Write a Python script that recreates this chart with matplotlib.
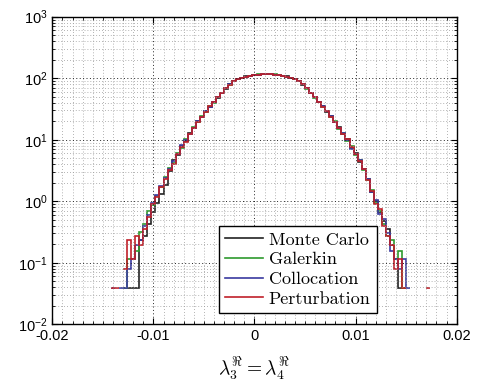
import numpy as np
import matplotlib
matplotlib.use("Agg")
import matplotlib.pyplot as plt
from matplotlib.ticker import MultipleLocator, LogLocator, NullFormatter

nan = np.nan

# bin edges of the histograms (width 0.0004)
edge_start = -0.0142
bin_width = 0.0004
n_bins = 79
edges = np.round(edge_start + bin_width * np.arange(n_bins + 1), 6)

# left tail (14 bins), centre (49 bins), right tail (16 bins)
mc_left = [nan, nan, nan, 0.039, 0.039, 0.039, 0.039, 0.234, 0.273, 0.43, 0.66, 0.94, 1.33, 1.83]
gal_left = [nan, nan, nan, 0.039, 0.117, 0.117, 0.156, 0.312, 0.43, 0.70, 0.86, 1.21, 1.72, 2.5]
col_left = [0.039, nan, 0.039, 0.039, 0.078, 0.117, 0.195, 0.234, 0.39, 0.59, 0.94, 1.25, 1.79, 2.38]
per_left = [0.039, 0.039, nan, 0.078, 0.234, 0.117, 0.273, 0.195, 0.35, 0.55, 0.90, 1.17, 1.68, 2.3]

mc_mid = [3.1, 4.6, 5.7, 7.9, 9.6, 12.9, 15.3, 19.9, 23.5, 29.4, 34.1, 41.5, 48.4, 58.1, 67.6,
          79.9, 89.0, 97.1, 101.5, 106.8, 109.5, 113.0, 114.1, 116.2, 115.7, 115.9, 114.0, 113.1,
          109.4, 106.9, 101.6, 97.0, 89.9, 79.0, 69.0, 57.6, 49.5, 40.4, 35.0, 28.5, 24.3, 19.2,
          15.9, 12.2, 10.1, 7.4, 6.0, 4.3, 3.4]
gal_mid = [3.5, 4.2, 6.1, 7.4, 10.2, 12.2, 16.1, 19.1, 24.4, 28.6, 35.2, 40.2, 49.6, 57.0, 69.1,
           78.8, 90.1, 96.0, 102.6, 105.9, 110.2, 112.1, 115.0, 115.1, 116.5, 115.0, 114.9, 111.9,
           110.3, 105.8, 102.4, 96.1, 89.1, 80.2, 67.9, 58.5, 48.5, 41.5, 34.1, 29.3, 23.4, 19.9,
           15.2, 12.8, 9.5, 7.8, 5.6, 4.6, 3.2]
col_mid = [3.3, 4.5, 5.9, 8.2, 9.9, 12.4, 15.6, 20.3, 23.8, 29.1, 34.4, 41.1, 48.8, 57.7, 68.3,
           79.3, 89.6, 96.6, 102.1, 106.4, 109.9, 112.6, 114.6, 115.4, 116.1, 115.6, 114.4, 112.4,
           109.7, 106.2, 102.1, 96.4, 89.4, 79.6, 68.4, 57.9, 49.2, 40.7, 34.8, 28.8, 24.0, 19.4,
           15.8, 13.0, 9.9, 7.1, 5.9, 4.7, 3.3]
per_mid = [3.2, 4.0, 5.8, 7.5, 9.2, 12.6, 15.5, 19.3, 23.0, 28.7, 34.9, 40.6, 49.3, 57.3, 68.8,
           78.7, 89.3, 96.8, 102.3, 106.1, 110.0, 112.4, 114.4, 115.6, 116.0, 115.4, 114.6, 112.6,
           109.6, 106.4, 101.8, 96.7, 89.6, 79.3, 68.6, 57.8, 48.8, 41.2, 34.4, 29.1, 23.7, 19.6,
           15.6, 12.6, 10.4, 7.7, 5.8, 4.5, 3.3]

mc_right = [2.26, 1.44, 1.01, 0.66, 0.47, 0.35, 0.195, 0.117, 0.039, 0.039, nan, nan, nan, nan, nan, nan]
gal_right = [2.19, 1.52, 0.94, 0.70, 0.43, 0.27, 0.234, 0.117, 0.156, 0.039, nan, nan, nan, nan, nan, nan]
col_right = [2.34, 1.40, 1.05, 0.62, 0.51, 0.31, 0.156, 0.117, 0.078, 0.117, 0.039, nan, nan, nan, nan, nan]
per_right = [2.22, 1.48, 0.90, 0.74, 0.39, 0.27, 0.195, 0.078, 0.117, 0.039, nan, nan, nan, nan, nan, 0.039]

labels = ["Monte Carlo", "Galerkin", "Collocation", "Perturbation"]
colors = ["#222222", "#2e9a2e", "#3a3aa0", "#c0202a"]
series = [mc_left + mc_mid + mc_right,
          gal_left + gal_mid + gal_right,
          col_left + col_mid + col_right,
          per_left + per_mid + per_right]

plt.rcParams['font.family'] = ['Liberation Sans', 'DejaVu Sans']

fig = plt.figure(figsize=(4.81, 3.90), dpi=100)
ax = fig.add_axes([0.1087, 0.1685, 0.8408, 0.7887])

for vals, lab, col in zip(series, labels, colors):
    ax.stairs(np.array(vals), edges, baseline=None, color=col, lw=1.2, label=lab)

ax.set_yscale('log')
ax.set_xlim(-0.02, 0.02)
ax.set_ylim(1e-2, 1e3)
ax.set_xticks([-0.02, -0.01, 0, 0.01, 0.02])
ax.set_xticklabels(["-0.02", "-0.01", "0", "0.01", "0.02"])
ax.xaxis.set_minor_locator(MultipleLocator(0.001))
ax.yaxis.set_major_locator(LogLocator(base=10, numticks=10))
ax.yaxis.set_minor_locator(LogLocator(base=10, subs=np.arange(2, 10), numticks=20))
ax.yaxis.set_minor_formatter(NullFormatter())

ax.grid(True, which='major', linestyle=(0, (1, 2.5)), color='#222222', lw=0.7)
ax.grid(True, which='minor', linestyle=(0, (1, 2.5)), color='#9a9a9a', lw=0.6)
ax.tick_params(which='both', direction='in', top=True, right=True, labelsize=10.5)
ax.tick_params(which='major', length=4)
ax.tick_params(which='minor', length=2)
for s in ax.spines.values():
    s.set_linewidth(1.0)

ax.set_xlabel(r'$\lambda_3^{\Re} = \lambda_4^{\Re}$', fontsize=14, math_fontfamily='cm', labelpad=9)

leg = ax.legend(loc='lower left', bbox_to_anchor=(0.412, 0.037), prop={'family': 'cmr10', 'size': 13},
                frameon=True, fancybox=False, framealpha=1, edgecolor='black',
                handlelength=2.1, handletextpad=0.3, labelspacing=0.22, borderpad=0.35,
                borderaxespad=0)
leg.get_frame().set_linewidth(1.0)

fig.savefig("out.png", dpi=100)
